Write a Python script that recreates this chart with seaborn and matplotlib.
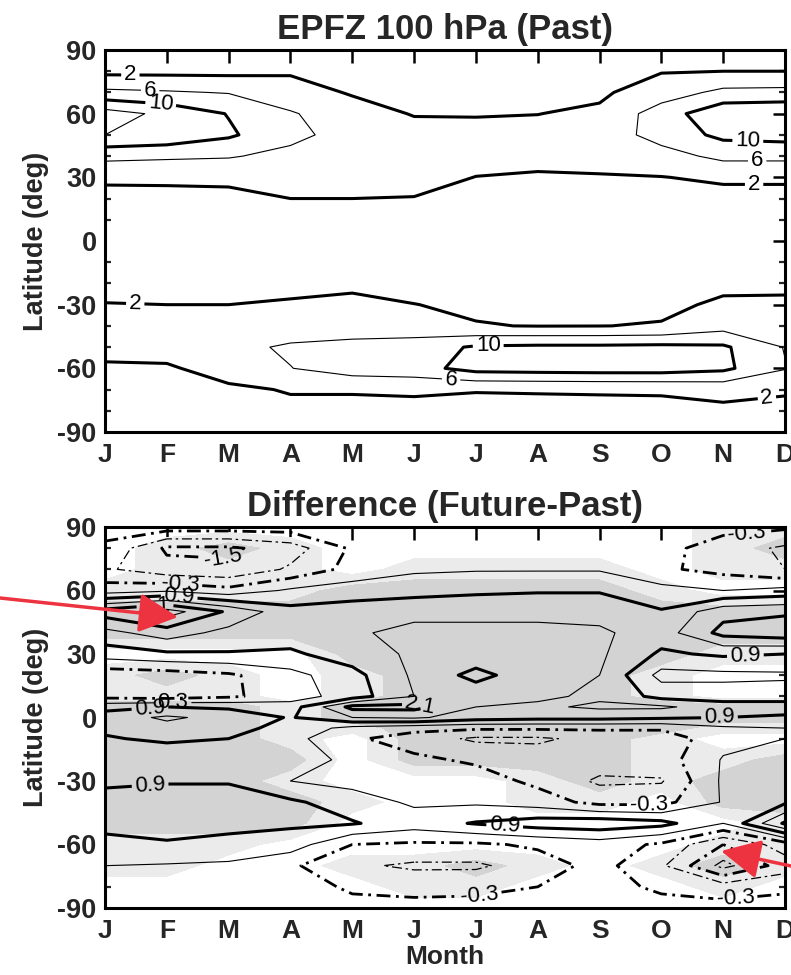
import numpy as np
import pandas as pd
import seaborn as sns
import matplotlib
matplotlib.use("Agg")
import matplotlib.pyplot as plt
from matplotlib.patches import FancyArrowPatch
from matplotlib.ticker import MultipleLocator

# ---------------- data ----------------
months = ["J", "F", "M", "A", "M", "J", "J", "A", "S", "O", "N", "D"]

lat_past = [90, 80, 70, 60, 50, 40, 30, 20, 10, 0, -10, -20, -30, -40, -50, -60, -70, -80, -90]
epfz_past = [
    [0.3, 0.3, 0.3, 0.4, 0.3, 0.3, 0.3, 0.3, 0.3, 0.5, 0.5, 0.5],
    [1.0, 1.0, 1.0, 1.6, 0.8, 0.6, 0.6, 0.6, 0.8, 1.8, 2.0, 2.0],
    [6.9, 6.4, 5.8, 3.5, 1.7, 1.2, 1.1, 1.2, 1.4, 4.0, 7.0, 7.2],
    [15.8, 13.0, 9.8, 6.4, 3.5, 1.8, 1.8, 1.95, 2.6, 8.0, 13.0, 13.5],
    [14.0, 13.0, 10.6, 7.0, 4.5, 3.3, 3.0, 3.0, 3.8, 7.5, 11.0, 11.5],
    [7.0, 6.6, 6.3, 5.0, 4.0, 3.6, 3.0, 2.8, 3.0, 4.5, 7.0, 7.0],
    [2.8, 2.9, 3.0, 3.2, 3.0, 3.0, 1.95, 1.7, 1.8, 1.9, 2.6, 2.6],
    [0.6, 0.6, 0.8, 2.0, 2.0, 1.9, 1.2, 1.0, 1.0, 0.8, 0.8, 0.8],
    [0.4, 0.4, 0.5, 0.8, 0.8, 0.8, 0.6, 0.5, 0.5, 0.4, 0.4, 0.4],
    [0.3, 0.3, 0.3, 0.3, 0.3, 0.3, 0.3, 0.3, 0.3, 0.3, 0.3, 0.3],
    [0.5, 0.5, 0.5, 0.6, 0.7, 0.5, 0.4, 0.4, 0.4, 0.4, 0.6, 0.6],
    [1.0, 1.0, 1.0, 1.2, 1.5, 1.0, 0.8, 0.8, 0.8, 0.9, 1.3, 1.4],
    [2.1, 2.0, 2.0, 2.3, 2.6, 2.05, 1.5, 1.2, 1.2, 1.3, 2.5, 2.5],
    [3.5, 3.5, 3.2, 3.5, 3.5, 3.5, 2.15, 1.9, 1.95, 2.2, 4.5, 4.0],
    [3.8, 4.0, 4.8, 6.6, 7.5, 8.0, 10.5, 10.8, 10.8, 11.0, 10.6, 5.8],
    [1.2, 1.4, 4.0, 5.9, 8.0, 8.5, 11.5, 11.8, 12.0, 12.0, 10.9, 6.2],
    [0.8, 0.8, 1.2, 2.3, 2.3, 2.5, 2.2, 2.3, 2.4, 2.5, 3.2, 2.6],
    [0.4, 0.4, 0.5, 1.0, 1.0, 1.0, 0.8, 0.8, 0.8, 0.8, 1.2, 0.6],
    [0.2, 0.2, 0.2, 0.3, 0.3, 0.3, 0.3, 0.3, 0.3, 0.3, 0.4, 0.2],
]
past_levels = [2, 6, 10, 14]

lat_diff = [90, 80, 70, 60, 50, 40, 30, 20, 10, 5, 0, -5, -10, -20, -30, -40, -50, -60, -70, -80, -90]
diff_future_past = [
    [-0.1, 0.0, 0.0, 0.0, 0.0, 0.0, 0.0, 0.0, 0.0, 0.0, -0.1, -0.2],
    [-0.4, -1.6, -1.6, -1.2, -0.2, 0.0, 0.05, 0.05, 0.05, -0.1, -0.6, -1.0],
    [-0.8, -1.3, -1.4, -0.8, -0.1, 0.2, 0.25, 0.25, 0.25, -0.2, -0.5, -0.9],
    [0.0, 0.2, -0.1, 0.4, 0.6, 0.7, 0.8, 0.85, 0.85, 0.5, 0.3, 0.5],
    [2.4, 3.0, 2.0, 1.1, 1.2, 1.3, 1.3, 1.3, 1.3, 0.95, 1.9, 2.0],
    [1.3, 1.8, 1.3, 1.2, 1.4, 1.7, 1.7, 1.7, 1.6, 1.2, 2.3, 2.5],
    [0.6, 0.8, 0.85, 0.8, 1.2, 1.6, 1.7, 1.7, 1.6, 0.8, 1.0, 0.9],
    [-0.7, -0.6, -0.4, 0.1, 0.7, 1.6, 2.3, 1.7, 1.5, 0.1, 0.15, 0.2],
    [-0.5, -0.6, -0.4, 0.0, 0.6, 1.5, 1.7, 1.6, 1.4, 0.7, 0.6, 0.6],
    [0.7, 0.9, 0.8, 0.6, 2.3, 2.3, 1.5, 1.4, 1.6, 1.6, 1.2, 1.2],
    [1.2, 1.6, 1.3, 0.85, 1.5, 1.6, 1.2, 1.1, 1.1, 1.0, 0.9, 0.8],
    [1.0, 1.3, 1.1, 0.7, 0.1, -0.1, -0.2, -0.2, -0.2, -0.2, 0.2, 0.3],
    [0.85, 1.0, 0.9, 0.5, -0.2, -0.6, -1.0, -1.0, -0.7, -0.7, 0.1, 0.3],
    [0.5, 0.5, 0.6, 0.5, 0.2, -0.17, -0.4, -0.6, -0.6, -0.6, 0.35, 0.5],
    [0.8, 0.85, 0.85, 0.3, 0.1, 0.05, 0.0, -0.45, -1.0, -0.95, 0.4, 0.6],
    [1.1, 1.2, 1.2, 1.0, 0.6, 0.2, 0.2, 0.0, -0.5, -0.5, 0.35, 0.8],
    [1.0, 1.1, 1.1, 1.0, 0.95, 0.6, 0.95, 1.2, 1.3, 1.1, 0.3, 2.2],
    [0.8, 0.85, 0.7, 0.6, -0.3, -0.4, -0.4, -0.2, 0.0, -0.4, -1.5, -0.6],
    [0.3, 0.25, 0.2, -0.2, -0.8, -1.0, -1.0, -0.6, -0.1, -0.8, -2.3, -1.2],
    [0.2, 0.15, 0.1, 0.0, -0.4, -0.5, -0.45, -0.3, -0.1, -0.4, -0.6, -0.4],
    [0.1, 0.1, 0.05, 0.0, -0.1, -0.1, -0.1, -0.1, 0.0, -0.1, -0.1, -0.1],
]
# significance class of the difference: 0 none, 1 weak, 2 strong
signif_class = [
    [0, 0, 0, 0, 0, 0, 0, 0, 0, 0, 1, 1],
    [0, 1, 2, 1, 0, 0, 0, 0, 0, 0, 1, 2],
    [0, 1, 1, 1, 0, 1, 1, 1, 1, 0, 1, 1],
    [1, 1, 1, 1, 2, 2, 2, 2, 2, 1, 0, 0],
    [2, 2, 2, 2, 2, 2, 2, 2, 2, 2, 2, 2],
    [2, 2, 2, 2, 2, 2, 2, 2, 2, 2, 2, 2],
    [0, 0, 0, 0, 2, 2, 2, 2, 2, 2, 1, 1],
    [1, 2, 1, 0, 1, 2, 2, 2, 2, 1, 0, 0],
    [1, 1, 1, 0, 1, 2, 2, 2, 2, 1, 0, 0],
    [2, 2, 2, 1, 2, 2, 2, 2, 2, 2, 2, 2],
    [2, 2, 2, 1, 2, 2, 2, 2, 2, 2, 2, 2],
    [2, 2, 2, 1, 1, 2, 2, 2, 2, 2, 1, 1],
    [2, 2, 2, 1, 0, 2, 2, 2, 2, 1, 0, 0],
    [2, 2, 2, 2, 0, 2, 2, 2, 2, 1, 1, 2],
    [2, 2, 2, 1, 0, 0, 0, 1, 2, 1, 2, 2],
    [2, 2, 2, 2, 1, 0, 0, 1, 1, 0, 2, 2],
    [2, 2, 2, 2, 0, 0, 0, 0, 0, 0, 0, 1],
    [1, 1, 1, 0, 0, 0, 0, 0, 0, 0, 1, 1],
    [1, 1, 0, 0, 1, 1, 2, 1, 0, 1, 2, 1],
    [0, 0, 0, 0, 0, 1, 1, 0, 0, 0, 1, 0],
    [0, 0, 0, 0, 0, 0, 0, 0, 0, 0, 0, 0],
]
diff_levels_neg = [-2.1, -1.5, -0.9, -0.3]
diff_levels_pos = [0.3, 0.9, 1.5, 2.1, 2.7]

# ---------------- style ----------------
sns.set_style("white")
plt.rcParams["font.family"] = ["Liberation Sans", "DejaVu Sans"]
plt.rcParams["axes.linewidth"] = 2.2
plt.rcParams["axes.unicode_minus"] = False

W, H = 791, 975
fig = plt.figure(figsize=(W / 100, H / 100), dpi=100)


def ax_rect(left, top, right, bottom):
    return [left / W, 1 - bottom / H, (right - left) / W, (bottom - top) / H]


ax1 = fig.add_axes(ax_rect(105, 50, 785, 432))
ax2 = fig.add_axes(ax_rect(105, 527, 785, 908))

x = np.arange(len(months))


def style_axes(ax, title):
    ax.set_xlim(0, 11)
    ax.set_ylim(-90, 90)
    ax.set_xticks(x)
    ax.set_xticklabels(months, fontsize=19, fontweight="bold")
    ax.yaxis.set_major_locator(MultipleLocator(30))
    ax.yaxis.set_minor_locator(MultipleLocator(10))
    for lab in ax.get_yticklabels():
        lab.set_fontsize(19.5)
        lab.set_fontweight("bold")
    ax.tick_params(axis="both", which="major", direction="in", length=9, width=1.8,
                   top=True, right=True, color="black")
    ax.tick_params(axis="y", which="minor", direction="in", length=4.5, width=1.6,
                   left=True, right=True)
    ax.tick_params(axis="x", which="major", pad=8)
    ax.tick_params(axis="y", which="major", pad=6)
    ax.set_ylabel("Latitude (deg)", fontsize=19.5, fontweight="bold", labelpad=6)
    ax.set_title(title, fontsize=25, fontweight="bold", pad=8)
    for s in ax.spines.values():
        s.set_color("black")
        s.set_linewidth(2.2)


# ---------------- top panel ----------------
Zp = np.array(epfz_past)
yp = np.array(lat_past)
thick, thin = 2.2, 0.8
past_lw = {2: thick, 6: thin, 10: thick, 14: thin}
past_label_pos = {
    2: [(0.41, 77), (10.5, 26.4), (0.49, -28.8), (10.7, -71.7)],
    6: [(0.73, 70), (10.55, 38), (5.6, -64.6)],
    10: [(0.9, 64), (10.4, 48.6), (6.2, -52)],
}
for lev in past_levels:
    cs = ax1.contour(x, yp, Zp, levels=[lev], colors="black", linewidths=past_lw[lev])
    if lev in past_label_pos:
        ax1.clabel(cs, manual=past_label_pos[lev], inline=True, fontsize=16,
                   fmt="%d", inline_spacing=3)
style_axes(ax1, "EPFZ 100 hPa (Past)")

# ---------------- bottom panel ----------------
Zd = np.array(diff_future_past)
yd = np.array(lat_diff)
Sg = np.array(signif_class, dtype=float)
ax2.contourf(x, yd, Sg, levels=[0.5, 1.5, 2.5], colors=["#ebebeb", "#d3d3d3"])

dd_thick = (0, (5, 2, 1, 2))
dd_thin = (0, (8, 3, 2, 3))
diff_style = {
    -2.1: (0.9, dd_thin), -1.5: (2.0, dd_thick), -0.9: (0.9, dd_thin), -0.3: (2.0, dd_thick),
    0.3: (0.8, "solid"), 0.9: (2.2, "solid"), 1.5: (0.8, "solid"), 2.1: (2.2, "solid"),
    2.7: (0.8, "solid"),
}
diff_label_pos = {
    -0.3: [(10.39, 84), (1.22, 65), (8.8, -43.7), (6.04, -80), (10.18, -80)],
    -1.5: [(1.9, 70)],
    0.3: [(1.1, 4)],
    0.9: [(1.2, 57), (0.73, 3), (10.36, 28.6), (9.94, 0), (0.73, -32), (6.46, -54)],
    2.1: [(0.8, 57), (5.1, 5.5)],
}
for lev in diff_levels_neg + diff_levels_pos:
    lw, ls = diff_style[lev]
    cs = ax2.contour(x, yd, Zd, levels=[lev], colors="black", linewidths=lw, linestyles=[ls])
    if lev in diff_label_pos:
        ax2.clabel(cs, manual=diff_label_pos[lev], inline=True, fontsize=16,
                   fmt=lambda v: f"{v:.1f}", inline_spacing=3)
style_axes(ax2, "Difference (Future-Past)")
ax2.set_xlabel("Month", fontsize=19, fontweight="bold", labelpad=1)

# ---------------- red arrows ----------------
red = "#ee3340"
for (x0, y0), (x1, y1) in [((0, 598), (178, 617)), ((791, 866), (721, 851))]:
    arr = FancyArrowPatch((x0 / W, 1 - y0 / H), (x1 / W, 1 - y1 / H),
                          transform=fig.transFigure, arrowstyle="-|>,head_length=1.1,head_width=0.55",
                          mutation_scale=22, color=red, lw=2.5, shrinkA=0, shrinkB=0)
    fig.add_artist(arr)

fig.savefig("out.png", dpi=100)
